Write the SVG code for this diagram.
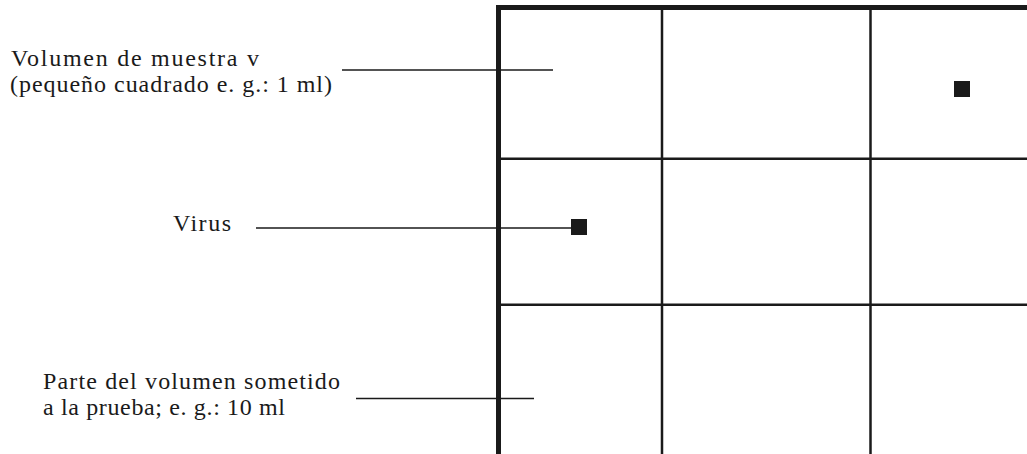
<svg xmlns="http://www.w3.org/2000/svg" width="1027" height="454" viewBox="0 0 1027 454">
  <style>
    .lbl { font-family: "Liberation Serif", "Times New Roman", serif; font-size: 24px; fill: #1a1a1a; }
    .frame { stroke: #1a1a1a; stroke-width: 5; fill: none; }
    .grid { stroke: #1a1a1a; stroke-width: 2.5; fill: none; }
    .lead { stroke: #1a1a1a; stroke-width: 1.4; fill: none; }
    .virus { fill: #1a1a1a; }
  </style>
  <rect width="1027" height="454" fill="#ffffff"/>

  <g id="grid">
    <line class="grid" x1="662" y1="10" x2="662" y2="454"/>
    <line class="grid" x1="870.5" y1="10" x2="870.5" y2="454"/>
    <line class="grid" x1="501" y1="158.7" x2="1027" y2="158.7"/>
    <line class="grid" x1="501" y1="304.7" x2="1027" y2="304.7"/>
    <polyline class="frame" points="498.5,454 498.5,7.5 1027,7.5"/>
  </g>

  <g id="virus-1">
    <rect class="virus" x="954" y="81" width="16" height="16"/>
  </g>
  <g id="virus-2">
    <rect class="virus" x="571" y="219" width="16" height="16"/>
  </g>

  <g id="label-volumen">
    <text class="lbl" x="11" y="66" textLength="248" lengthAdjust="spacing">Volumen de muestra v</text>
    <text class="lbl" x="10" y="92" textLength="322" lengthAdjust="spacing">(pequeño cuadrado e. g.: 1 ml)</text>
  </g>
  <g id="label-virus">
    <text class="lbl" x="173" y="231" textLength="58" lengthAdjust="spacing">Virus</text>
  </g>
  <g id="label-parte">
    <text class="lbl" x="43" y="389" textLength="297" lengthAdjust="spacing">Parte del volumen sometido</text>
    <text class="lbl" x="43" y="415" textLength="242" lengthAdjust="spacing">a la prueba; e. g.: 10 ml</text>
  </g>

  <g id="connectors">
    <line class="lead" x1="342" y1="70" x2="553" y2="70"/>
    <line class="lead" x1="256" y1="228" x2="571" y2="228"/>
    <line class="lead" x1="356" y1="398.5" x2="534" y2="398.5"/>
  </g>
</svg>
